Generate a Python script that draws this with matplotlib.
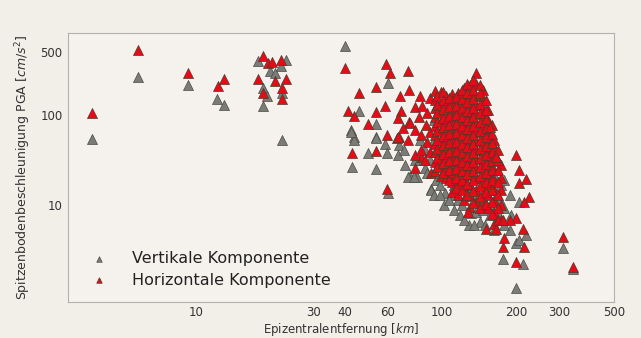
import matplotlib
matplotlib.use("Agg")
import matplotlib.pyplot as plt
from matplotlib.ticker import NullLocator, FixedLocator, FixedFormatter

# Horizontale Komponente: Epizentralentfernung [km] und PGA [cm/s^2]
h_km_near = [3.77, 5.77, 9.2, 12.2, 12.9, 18.7, 19.5, 20.2, 22.0, 17.8, 20.9, 23.1, 18.7, 22.2, 22.2]
h_pga_near = [106, 527, 290, 210, 249, 453, 375, 391, 408, 249, 240, 249, 177, 198, 149]

h_km_mid = [40.1, 58.9, 61.1, 72.5, 45.7, 53.6, 67.5, 73.0, 58.4, 41.4,
            43.7, 53.9, 68.0, 77.2, 83.0, 49.9, 66.0, 73.3, 80.6, 59.7,
            67.0, 65.5, 72.5, 43.1, 53.6, 59.7, 77.2, 89.7, 82.0,
            66.0, 69.4, 73.7, 77.2, 77.2, 80.9, 81.7, 81.7, 84.8, 85.6,
            86.4, 87.1, 88.8, 88.8, 88.8]
h_pga_mid = [335, 366, 295, 310, 177, 203, 163, 190, 126, 112,
             97.5, 109, 112, 124, 126, 79, 92, 84, 94, 60,
             57, 56, 53, 37.5, 40, 15, 25.6, 22.5, 34.5,
             57, 72, 81, 68, 36, 163, 60, 41, 32, 77,
             50, 105, 154, 65, 39]

h_km_core = ([93.1] * 10 + [98.5] * 10 + [104] * 10 + [110] * 12 + [116] * 12
             + [123] * 13 + [130] * 14 + [137] * 14 + [146] * 13 + [154] * 11
             + [163] * 9 + [173] * 5)
h_pga_core = [185, 147, 120, 95, 75, 60, 48, 39, 30, 24,
              180, 133, 108, 86, 68, 54, 43, 34, 27, 21,
              163, 129, 105, 84, 66, 53, 42, 33, 26.5, 20,
              171, 147, 117, 93, 74, 58, 46, 37, 29, 23, 18, 14,
              175, 140, 110, 88, 70, 56, 44, 35, 28, 22, 17, 13,
              199, 159, 126, 100, 79, 63, 50, 40, 31.6, 25, 20, 15.5, 11.4,
              215, 171, 136, 108, 86, 68, 54, 43, 34, 27, 21.5, 16.7, 12.6, 9.6,
              293, 221, 163, 129, 103, 81, 65, 51, 41, 32.5, 26, 20, 14.7, 10.8,
              190, 147, 117, 93, 74, 58, 46, 37, 29, 23, 18, 13.6, 10,
              114, 88, 70, 56, 44, 35, 28, 22, 17, 13, 9.2,
              53, 41, 31.6, 24.5, 19, 14.7, 11.4, 8.3, 6.1,
              27.8, 20, 14.7, 10, 6.8]

# second, offset set of stations inside the dense band
h_km_core2 = ([95.6] * 9 + [101] * 10 + [107] * 10 + [113.5] * 11 + [120] * 12
              + [126.5] * 13 + [133.5] * 14 + [142] * 14 + [150] * 12 + [159] * 10
              + [168] * 7)
h_pga_core2 = [163, 129, 105, 84, 66, 53, 42, 33, 26.5,
               180, 147, 117, 93, 74, 58, 46, 37, 29, 23,
               155, 123, 97, 77, 61, 49, 39, 31, 24.5, 19,
               159, 126, 100, 79, 63, 50, 40, 31.6, 25, 20, 15.5,
               190, 151, 120, 95, 75, 60, 48, 38, 30, 24, 19, 14.7,
               221, 175, 140, 110, 88, 70, 56, 44, 35, 28, 22, 17, 13,
               245, 190, 151, 120, 95, 75, 60, 48, 38, 30, 24, 19, 14.3, 10.5,
               215, 167, 133, 105, 84, 66, 53, 42, 33, 26.5, 21, 16.3, 12.3, 9.3,
               147, 114, 90, 72, 57, 45, 36, 28.5, 22.7, 18, 14, 10.3,
               77, 61, 49, 39, 31, 24.5, 19, 14.7, 10.8, 7.9,
               41, 31.6, 24.5, 18, 13, 9.2, 6.8]

h_km_far = [150, 156, 160, 166, 142, 200, 206, 219, 206, 226,
            216, 200, 188, 176, 165, 151, 213, 179, 176, 216,
            200, 309, 340, 127]
h_pga_far = [114, 74, 49, 34, 175, 36, 24.5, 19.6, 17.5, 12.3,
             10.8, 7.2, 6.8, 6.8, 5.5, 5.5, 5.5, 4.3, 3.4, 3.4,
             2.35, 4.4, 2.05, 8.4]

# Vertikale Komponente
v_km_near = [3.77, 5.77, 9.2, 12.1, 12.9, 17.8, 19.9, 20.8, 22.0, 23.2, 18.7, 19.4, 18.7, 22.2, 22.2]
v_pga_near = [54, 266, 215, 149, 130, 401, 310, 290, 350, 408, 198, 163, 126, 174, 53]

v_km_mid = [40.1, 60.3, 45.8, 53.9, 42.5, 43.7, 53.9, 43.7, 53.9, 58.4,
            67.0, 49.9, 59.7, 66.2, 43.1, 53.6, 60.0, 90.3, 73.8, 79.0,
            72.5, 77.0, 90.0, 42.5, 69.8, 84.8, 87.0, 80.9, 77.2, 70.3]
v_pga_mid = [589, 229, 112, 79, 68, 57, 57, 53, 56, 48,
             46, 38, 38, 36, 26.2, 25, 13.7, 15, 21, 20.3,
             20.7, 20.7, 14.7, 65, 41, 25.7, 23, 31.6, 31.6, 27.8]

v_km_core = [94, 97.6, 102, 103, 109, 112, 116, 120, 125, 129,
             131, 137, 142, 146, 156, 163, 171, 179, 188, 199,
             206, 206, 220, 214, 176, 200, 309, 340,
             93, 97.6, 104, 110, 116, 123, 130, 137, 146, 154,
             163, 98.5, 104, 110, 116, 123, 130, 137, 146, 154,
             163, 173, 88.8, 84.8, 80.9, 93, 102, 112, 123, 135,
             148, 118, 129, 142, 156, 107, 97.6, 135, 149, 163,
             179, 188,
             93, 102, 112, 118, 107, 97.6, 123, 135, 149, 163,
             156, 171, 179, 190]
v_pga_core = [19, 16.7, 23, 13.8, 12.9, 16.7, 11.4, 10, 12.9, 6,
              8.1, 8.4, 6.5, 8.8, 10, 7.7, 12, 9.2, 5.3, 3.8,
              4.1, 10.7, 4.6, 2.2, 2.5, 1.2, 3.3, 1.94,
              53, 41, 31.6, 26, 21.5, 18, 14.7, 12.9, 12, 14.7,
              14.7, 27.8, 21.5, 20, 15.5, 24.5, 31.6, 20, 16.7, 21.5,
              21.5, 16.7, 31.6, 41, 53, 88, 77, 60, 53, 41,
              31.6, 100, 88, 68, 41, 114, 129, 129, 88, 31.6,
              19, 12.9,
              12.9, 10, 8.8, 7.7, 11.4, 12.9, 6.8, 6, 6, 5.3,
              7.7, 7.7, 6, 7.7]

h_km = h_km_near + h_km_mid + h_km_core + h_km_core2 + h_km_far
h_pga = h_pga_near + h_pga_mid + h_pga_core + h_pga_core2 + h_pga_far
v_km = v_km_near + v_km_mid + v_km_core
v_pga = v_pga_near + v_pga_mid + v_pga_core

BG = '#F2EEE8'
GREY = '#7b7c77'
RED = '#E80A14'

fig = plt.figure(figsize=(6.41, 3.38), dpi=100)
fig.patch.set_facecolor(BG)
ax = fig.add_axes([68 / 641, 1 - 302 / 338, 546 / 641, 269 / 338])
ax.set_facecolor('#F5F2EE')

ax.scatter(v_km, v_pga, marker='^', s=52, c=GREY, edgecolors='#4a4a44',
           linewidths=0.5, label='Vertikale Komponente', zorder=2)
ax.scatter(h_km, h_pga, marker='^', s=52, c=RED, edgecolors='#4a3a30',
           linewidths=0.5, label='Horizontale Komponente', zorder=3)

ax.set_xscale('log')
ax.set_yscale('log')
ax.set_xlim(3.0, 500)
ax.set_ylim(0.84, 815)

xt = [10, 30, 40, 60, 100, 200, 300, 500]
ax.xaxis.set_major_locator(FixedLocator(xt))
ax.xaxis.set_major_formatter(FixedFormatter([str(t) for t in xt]))
ax.xaxis.set_minor_locator(NullLocator())
yt = [10, 100, 500]
ax.yaxis.set_major_locator(FixedLocator(yt))
ax.yaxis.set_major_formatter(FixedFormatter([str(t) for t in yt]))
ax.yaxis.set_minor_locator(NullLocator())
ax.tick_params(axis='both', length=0, labelsize=8.5, colors='#333333')
ax.tick_params(axis='x', pad=3)
ax.tick_params(axis='y', pad=4)

for sp in ax.spines.values():
    sp.set_color('#b5b2ad')
    sp.set_linewidth(0.8)

ax.set_xlabel('Epizentralentfernung [$km$]', fontsize=8.5, color='#333333', labelpad=1)
ax.set_ylabel('Spitzenbodenbeschleunigung PGA [$cm/s^2$]', fontsize=9,
              color='#333333', labelpad=5)

leg = ax.legend(loc='lower left', bbox_to_anchor=(0.015, 0.03), borderaxespad=0,
                frameon=False, fontsize=11.5, markerscale=0.55, handletextpad=1.1,
                labelspacing=0.4, scatterpoints=1)
for t in leg.get_texts():
    t.set_color('#222222')

fig.savefig('out.png', dpi=100, facecolor=BG)
